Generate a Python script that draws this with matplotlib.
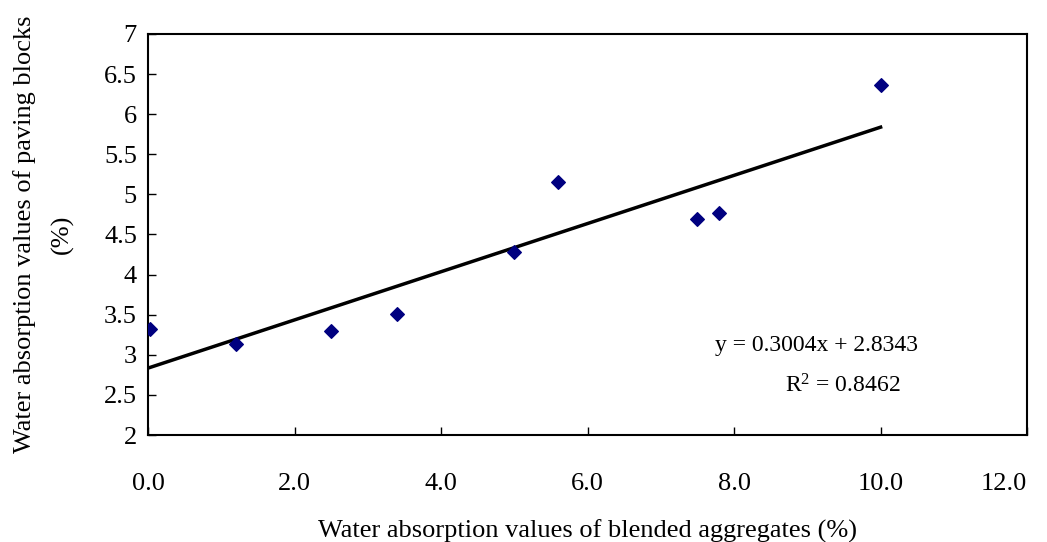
import matplotlib.pyplot as plt
import numpy as np

plt.rcParams['font.family'] = ['Liberation Serif', 'DejaVu Serif']

# water absorption of blended aggregates vs paving blocks (%)
aggregate = [0.03, 1.2, 2.5, 3.4, 5.0, 5.6, 7.5, 7.8, 10.0]
block = [3.32, 3.13, 3.30, 3.51, 4.28, 5.16, 4.69, 4.77, 6.36]

slope = 0.3004
intercept = 2.8343
r2 = 0.8462

fig = plt.figure(figsize=(10.47, 5.42), dpi=100)
ax = fig.add_axes([0.1414, 0.1974, 0.8396, 0.7399])

ax.scatter(aggregate, block, marker='D', s=48, color='#000080', zorder=3)

xfit = np.array([0.0, 10.0])
ax.plot(xfit, slope * xfit + intercept, color='black', lw=2.5, zorder=2)

ax.set_xlim(0, 12)
ax.set_ylim(2, 7)
ax.set_xticks(np.arange(0, 12.1, 2))
ax.set_xticklabels(['%.1f' % v for v in np.arange(0, 12.1, 2)])
ax.set_yticks(np.arange(2, 7.1, 0.5))
ax.set_yticklabels(['%g' % v for v in np.arange(2, 7.1, 0.5)])
ax.tick_params(direction='in', length=6, width=1, labelsize=19)
ax.tick_params(axis='x', pad=27)
ax.tick_params(axis='y', pad=8)
# keep the last x label inside the figure
ax.get_xticklabels()[-1].set_horizontalalignment('right')
for s in ax.spines.values():
    s.set_linewidth(1.5)

ax.set_xlabel('Water absorption values of blended aggregates (%)', fontsize=19, labelpad=18)
ax.set_ylabel('Water absorption values of paving blocks\n(%)', fontsize=19, labelpad=22,
              linespacing=1.8)

ax.text(9.13, 3.12, 'y = %.4fx + %.4f' % (slope, intercept), fontsize=17, ha='center', va='center')
ax.text(9.49, 2.61, '$\\mathregular{R^2}$ = %.4f' % r2, fontsize=17, ha='center', va='center')

fig.savefig('out.png', dpi=100)
